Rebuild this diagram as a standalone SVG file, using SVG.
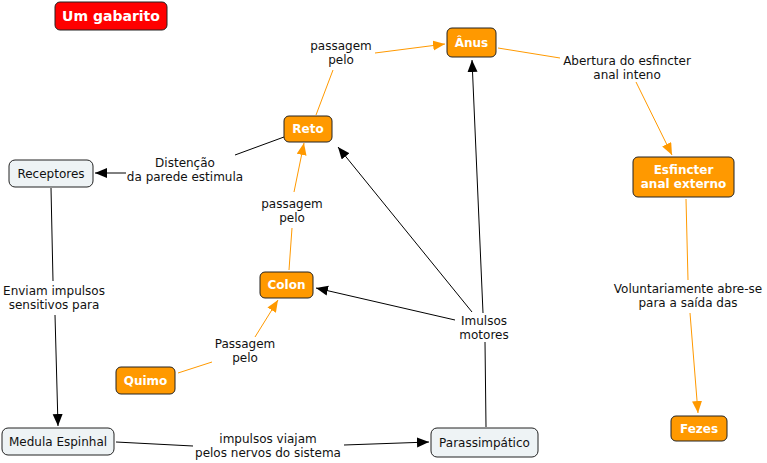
<svg xmlns="http://www.w3.org/2000/svg" width="767" height="463" viewBox="0 0 767 463">
<style>
text{font-family:"DejaVu Sans","Liberation Sans",sans-serif;font-size:12px;text-anchor:middle}
.o rect{fill:#FF9900;stroke:#222;stroke-width:1}
.o text{fill:#fff;font-weight:bold}
.l rect{fill:#EEF3F5;stroke:#222;stroke-width:1}
.l text{fill:#111}
.t rect{fill:#FF0000;stroke:#222;stroke-width:1}
.t text{fill:#fff;font-weight:bold;font-size:14px}
.lbl{fill:#111}
.ob{stroke:#FF9900;stroke-width:1;fill:none}
.bk{stroke:#000;stroke-width:1;fill:none}
</style>
<defs>
<marker id="ao" markerUnits="userSpaceOnUse" markerWidth="13" markerHeight="11" refX="12" refY="5" orient="auto"><path d="M0,0 L12,5 L0,10 Z" fill="#FF9900"/></marker>
<marker id="ab" markerUnits="userSpaceOnUse" markerWidth="13" markerHeight="11" refX="12" refY="5" orient="auto"><path d="M0,0 L12,5 L0,10 Z" fill="#000"/></marker>
</defs>
<rect width="767" height="463" fill="#fff"/>
<g id="connectors">
<line class="ob" x1="316" y1="115" x2="333" y2="70"/>
<line class="ob" x1="375" y1="53" x2="445" y2="44" marker-end="url(#ao)"/>
<line class="ob" x1="498" y1="48" x2="560" y2="58"/>
<line class="ob" x1="636" y1="82" x2="672" y2="155" marker-end="url(#ao)"/>
<line class="ob" x1="686" y1="199" x2="688" y2="280"/>
<line class="ob" x1="690" y1="313" x2="698" y2="413" marker-end="url(#ao)"/>
<line class="ob" x1="289" y1="270" x2="292" y2="228"/>
<line class="ob" x1="294" y1="192" x2="304" y2="143" marker-end="url(#ao)"/>
<line class="ob" x1="178" y1="373" x2="212" y2="362"/>
<line class="ob" x1="255" y1="337" x2="278" y2="300" marker-end="url(#ao)"/>
<line class="bk" x1="284" y1="137" x2="235" y2="155"/>
<line class="bk" x1="126" y1="173" x2="95" y2="173" marker-end="url(#ab)"/>
<line class="bk" x1="51" y1="188" x2="53" y2="281"/>
<line class="bk" x1="55" y1="315" x2="58" y2="426" marker-end="url(#ab)"/>
<line class="bk" x1="116" y1="442" x2="193" y2="446"/>
<line class="bk" x1="344" y1="445" x2="429" y2="442" marker-end="url(#ab)"/>
<line class="bk" x1="486" y1="427" x2="485" y2="342"/>
<line class="bk" x1="455" y1="320" x2="316" y2="288" marker-end="url(#ab)"/>
<line class="bk" x1="472" y1="312" x2="338" y2="147" marker-end="url(#ab)"/>
<line class="bk" x1="483" y1="313" x2="472" y2="60" marker-end="url(#ab)"/>
</g>
<g id="labels">
<text class="lbl" x="341" y="50">passagem</text><text class="lbl" x="341" y="64">pelo</text>
<text class="lbl" x="185" y="167">Distenção</text><text class="lbl" x="185" y="181">da parede estimula</text>
<text class="lbl" x="292" y="208">passagem</text><text class="lbl" x="292" y="222">pelo</text>
<text class="lbl" x="54" y="295">Enviam impulsos</text><text class="lbl" x="54" y="309">sensitivos para</text>
<text class="lbl" x="245" y="348">Passagem</text><text class="lbl" x="245" y="362">pelo</text>
<text class="lbl" x="268" y="443">impulsos viajam</text><text class="lbl" x="268" y="457">pelos nervos do sistema</text>
<text class="lbl" x="484" y="325">Imulsos</text><text class="lbl" x="484" y="339">motores</text>
<text class="lbl" x="627" y="65">Abertura do esfincter</text><text class="lbl" x="627" y="79">anal inteno</text>
<text class="lbl" x="688" y="293">Voluntariamente abre-se</text><text class="lbl" x="688" y="307">para a saída das</text>
</g>
<g id="title" class="t"><rect x="55" y="2" width="112" height="28" rx="5"/><text x="111" y="21">Um gabarito</text></g>
<g id="reto" class="o"><rect x="284" y="116" width="48" height="26" rx="5"/><text x="308" y="133">Reto</text></g>
<g id="anus" class="o"><rect x="447" y="28" width="49" height="29" rx="5"/><text x="471.5" y="47">Ânus</text></g>
<g id="esfincter" class="o"><rect x="633" y="157" width="101" height="40" rx="5"/><text x="683.5" y="174">Esfincter</text><text x="683.5" y="188">anal externo</text></g>
<g id="colon" class="o"><rect x="260" y="272" width="53" height="26" rx="5"/><text x="286.5" y="289">Colon</text></g>
<g id="quimo" class="o"><rect x="116" y="367" width="59" height="27" rx="5"/><text x="145.5" y="385">Quimo</text></g>
<g id="fezes" class="o"><rect x="671" y="416" width="56" height="25" rx="5"/><text x="699" y="433">Fezes</text></g>
<g id="receptores" class="l"><rect x="9" y="160" width="84" height="27" rx="6"/><text x="51" y="178">Receptores</text></g>
<g id="medula" class="l"><rect x="2" y="428" width="112" height="27" rx="6"/><text x="58" y="446">Medula Espinhal</text></g>
<g id="parassimpatico" class="l"><rect x="431" y="428" width="107" height="29" rx="6"/><text x="484.5" y="447">Parassimpático</text></g>
</svg>
